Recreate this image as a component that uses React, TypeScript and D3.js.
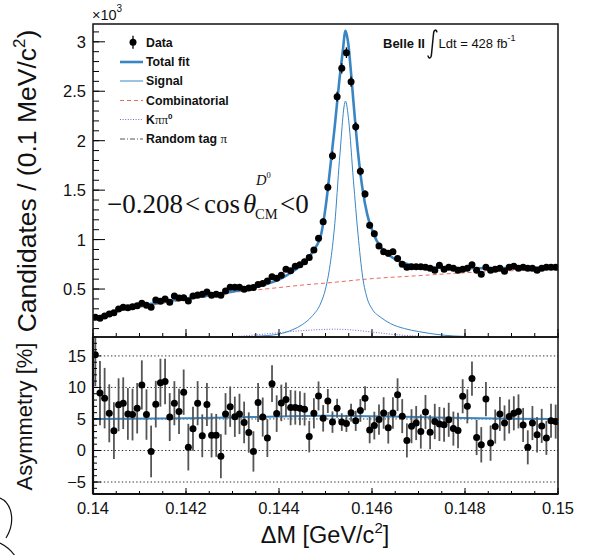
import React from "react";
import * as d3 from "d3";

// ---------------- data ----------------
const binLow = 0.14;
const binWidth = 0.0001;

// Candidates per bin (x10^3)
const candidates = [
  0.214, 0.204, 0.228, 0.248, 0.261, 0.298, 0.315, 0.312, 0.322, 0.332,
  0.356, 0.336, 0.315, 0.389, 0.376, 0.399, 0.366, 0.43, 0.41, 0.413,
  0.379, 0.43, 0.44, 0.447, 0.47, 0.437, 0.447, 0.437, 0.48, 0.517,
  0.517, 0.517, 0.497, 0.51, 0.515, 0.545, 0.555, 0.58, 0.625, 0.608,
  0.64, 0.7, 0.685, 0.73, 0.745, 0.775, 0.82, 0.895, 1.013, 1.181,
  1.529, 1.849, 2.445, 2.732, 2.89, 2.597, 2.142, 1.69, 1.461, 1.145,
  1.06, 0.935, 0.878, 0.861, 0.878, 0.81, 0.75, 0.72, 0.726, 0.726,
  0.726, 0.72, 0.71, 0.69, 0.74, 0.7, 0.72, 0.71, 0.69, 0.7,
  0.71, 0.745, 0.69, 0.65, 0.72, 0.69, 0.7, 0.71, 0.68, 0.72,
  0.73, 0.71, 0.72, 0.71, 0.71, 0.69, 0.71, 0.72, 0.72, 0.72,
];

// Asymmetry per bin [%]
const asymmetry = [
  15.2, 9.1, 8.3, 5.9, 3.15, 7.25, 7.5, 5.8, 5.7, 6.7,
  10.4, 5.7, -0.15, 7.35, 10.75, 10.95, 5.3, 7.5, 6.2, 9.25,
  0.53, 3.45, 7.5, 2.33, 7.3, 2.4, 2.4, -0.9, 5.8, 6.95,
  5.35, 5.8, 4.45, 2.85, -0.15, 7.6, 5.3, 1.97, 10.6, 5.85,
  7.55, 8.1, 6.8, 6.8, 6.7, 6.55, 2.2, 5.9, 8.65, 5.1,
  7.85, 4.5, 6.7, 4.5, 4.3, 6.0, 4.7, 6.35, 8.3, 3.25,
  3.95, 4.9, 5.95, 3.6, 5.95, 8.85, 5.45, 1.6, 3.85, 4.35,
  3.0, 6.1, 2.9, 4.6, 4.2, 4.08, 4.87, 3.47, 3.17, 8.6,
  7.0, 11.4, 2.07, 0.9, 8.15, 1.17, 3.8, 5.8, 4.35, 5.4,
  5.9, 6.2, 4.05, 0.5, 4.35, 2.5, 3.9, 2.0, 4.73, 4.58,
];

const asymmetryErr = [
  5.0, 5.1, 4.8, 4.6, 4.5, 4.2, 4.1, 4.1, 4.1, 4.0,
  3.9, 4.0, 4.1, 3.7, 3.8, 3.6, 3.8, 3.5, 3.6, 3.6,
  3.7, 3.5, 3.5, 3.4, 3.4, 3.5, 3.4, 3.5, 3.3, 3.2,
  3.2, 3.2, 3.3, 3.2, 3.2, 3.1, 3.1, 3.0, 2.9, 2.9,
  2.9, 2.7, 2.8, 2.7, 2.7, 2.6, 2.5, 2.4, 2.3, 2.1,
  1.9, 1.7, 1.5, 1.4, 1.35, 1.4, 1.6, 1.8, 1.9, 2.1,
  2.2, 2.4, 2.5, 2.5, 2.5, 2.6, 2.7, 2.7, 2.7, 2.7,
  2.7, 2.7, 2.7, 2.8, 2.7, 2.7, 2.7, 2.7, 2.8, 2.7,
  2.7, 2.7, 2.8, 2.8, 2.7, 2.8, 2.7, 2.7, 2.8, 2.7,
  2.7, 2.7, 2.7, 2.7, 2.7, 2.8, 2.7, 2.7, 2.7, 2.7,
];

// Fit components (x10^3)
const totalFitX = [0.14, 0.1403, 0.1406, 0.141, 0.1415, 0.142, 0.1425, 0.143, 0.1434, 0.1438, 0.1441, 0.1443, 0.1445, 0.1447, 0.1448, 0.1449, 0.145, 0.1451, 0.1452, 0.1453, 0.14537, 0.14543, 0.14549, 0.14555, 0.1456, 0.1457, 0.1458, 0.1459, 0.146, 0.1461, 0.1462, 0.1463, 0.1465, 0.1467, 0.147, 0.1475, 0.148, 0.149, 0.15];
const totalFitY = [0.205, 0.245, 0.29, 0.325, 0.37, 0.405, 0.435, 0.475, 0.51, 0.56, 0.62, 0.68, 0.75, 0.86, 0.93, 1.04, 1.32, 1.72, 2.15, 2.62, 2.9, 3.11, 2.98, 2.68, 2.4, 1.88, 1.5, 1.25, 1.1, 0.99, 0.92, 0.87, 0.8, 0.76, 0.73, 0.715, 0.71, 0.712, 0.72];

const signalX = [0.14, 0.142, 0.143, 0.1435, 0.144, 0.1443, 0.1445, 0.1447, 0.1449, 0.145, 0.1451, 0.1452, 0.1453, 0.14543, 0.1455, 0.1456, 0.1457, 0.1458, 0.1459, 0.146, 0.1462, 0.1464, 0.1467, 0.147, 0.1475, 0.148, 0.149, 0.15];
const signalY = [0.002, 0.006, 0.012, 0.022, 0.045, 0.09, 0.14, 0.22, 0.36, 0.5, 0.75, 1.16, 1.8, 2.4, 2.2, 1.6, 1.05, 0.62, 0.4, 0.3, 0.21, 0.15, 0.1, 0.07, 0.035, 0.02, 0.008, 0.004];

const combX = [0.14, 0.1403, 0.1406, 0.141, 0.1415, 0.142, 0.1425, 0.143, 0.1435, 0.144, 0.1445, 0.145, 0.146, 0.147, 0.148, 0.149, 0.15];
const combY = [0.2, 0.24, 0.28, 0.315, 0.355, 0.39, 0.425, 0.465, 0.49, 0.515, 0.54, 0.56, 0.605, 0.635, 0.665, 0.685, 0.7];

const kpipi0X = [0.14, 0.142, 0.143, 0.1437, 0.1442, 0.1448, 0.1452, 0.1456, 0.146, 0.1466, 0.1475, 0.1485, 0.15];
const kpipi0Y = [0.0, 0.003, 0.018, 0.045, 0.068, 0.088, 0.094, 0.085, 0.065, 0.035, 0.017, 0.008, 0.003];

const randomTagX = [0.14, 0.145, 0.15];
const randomTagY = [0.004, 0.006, 0.006];

const asymFitX = [0.14, 0.142, 0.143, 0.144, 0.145, 0.146, 0.147, 0.148, 0.149, 0.15];
const asymFitY = [5.0, 5.1, 5.25, 5.4, 5.5, 5.45, 5.3, 5.15, 5.05, 5.0];

const xTickValues = [0.14, 0.142, 0.144, 0.146, 0.148, 0.15];
const xTickLabels = ["0.14", "0.142", "0.144", "0.146", "0.148", "0.15"];
const yTopTickValues = [0.5, 1, 1.5, 2, 2.5, 3];
const yTopTickLabels = ["0.5", "1", "1.5", "2", "2.5", "3"];
const yBotTickValues = [-5, 0, 5, 10, 15];
const yBotTickLabels = ["\u22125", "0", "5", "10", "15"];

// ---------------- layout ----------------
const W = 594;
const H = 555;
const L = 93;
const R = 558;
const T = 24;
const MID = 337;
const B = 494;

const BLUE = "#3a86c4";
const RED = "#ec6a5e";
const PURPLE = "#7468d6";
const SANS = "'Liberation Sans', Arial, Helvetica, sans-serif";
const SERIF = "'Liberation Serif', 'Times New Roman', serif";

export default function App() {
  const x = d3.scaleLinear().domain([0.14, 0.15]).range([L, R]);
  const yTop = d3.scaleLinear().domain([0.015, 3.18]).range([MID, T]);
  const yBot = d3.scaleLinear().domain([-6.9, 18]).range([B, MID]);

  const topLine = d3
    .line<[number, number]>()
    .x((d) => x(d[0]))
    .y((d) => yTop(d[1]))
    .curve(d3.curveMonotoneX);
  const botLine = d3
    .line<[number, number]>()
    .x((d) => x(d[0]))
    .y((d) => yBot(d[1]))
    .curve(d3.curveMonotoneX);

  const zip = (a: number[], b: number[]) => a.map((v, i) => [v, b[i]] as [number, number]);

  const centers = candidates.map((_, i) => binLow + (i + 0.5) * binWidth);

  const xMinor = d3.range(0, 21).map((i) => 0.14 + i * 0.0005);
  const yTopMinor = d3.range(1, 32).map((i) => i * 0.1);
  const yBotMinor = d3.range(-6, 19);

  const legendRows = [42.3, 62, 81, 100.5, 119.5, 139];
  const lx0 = 120;
  const lx1 = 143;
  const ltx = 146;
  const legendFont = 12.3;
  const DOT = 3.5;

  return (
    <svg
      width={W}
      height={H}
      style={{ position: "absolute", left: 0, top: 0, background: "#fff" }}
      fontFamily={SANS}
    >
      <rect x={0} y={0} width={W} height={H} fill="#fff" />
      <defs>
        <clipPath id="clipTop">
          <rect x={L} y={T} width={R - L} height={MID - T} />
        </clipPath>
        <clipPath id="clipBot">
          <rect x={L} y={MID} width={R - L} height={B - MID} />
        </clipPath>
      </defs>

      {/* ---------- top panel ---------- */}
      <g clipPath="url(#clipTop)">
        <path d={topLine(zip(randomTagX, randomTagY)) || ""} fill="none" stroke="#555" strokeWidth={1} strokeDasharray="5,2,1,2" />
        <path d={topLine(zip(kpipi0X, kpipi0Y)) || ""} fill="none" stroke={PURPLE} strokeWidth={1} strokeDasharray="1,1.6" />
        <path d={topLine(zip(combX, combY)) || ""} fill="none" stroke={RED} strokeWidth={1} strokeDasharray="4,3" />
        <path d={topLine(zip(signalX, signalY)) || ""} fill="none" stroke={BLUE} strokeWidth={1} />
        <path d={topLine(zip(totalFitX, totalFitY)) || ""} fill="none" stroke={BLUE} strokeWidth={2.6} />
        {candidates.map((v, i) => {
          const e = Math.sqrt(v * 1000) / 1000;
          return (
            <g key={"c" + i}>
              <line x1={x(centers[i])} x2={x(centers[i])} y1={yTop(v - e)} y2={yTop(v + e)} stroke="#000" strokeWidth={1.3} />
              <circle cx={x(centers[i])} cy={yTop(v)} r={DOT} fill="#000" />
            </g>
          );
        })}
      </g>

      {/* top panel ticks */}
      {yTopMinor.map((v) => (
        <line key={"ytm" + v} x1={L} x2={L + 6} y1={yTop(v)} y2={yTop(v)} stroke="#000" strokeWidth={1} />
      ))}
      {yTopTickValues.map((v) => (
        <line key={"ytM" + v} x1={L} x2={L + 12} y1={yTop(v)} y2={yTop(v)} stroke="#000" strokeWidth={1} />
      ))}
      {xMinor.map((v, i) => (
        <line key={"xtm" + i} x1={x(v)} x2={x(v)} y1={MID} y2={MID - 4} stroke="#000" strokeWidth={1} />
      ))}
      {xTickValues.map((v) => (
        <line key={"xtM" + v} x1={x(v)} x2={x(v)} y1={MID} y2={MID - 8} stroke="#000" strokeWidth={1} />
      ))}
      <rect x={L} y={T} width={R - L} height={MID - T} fill="none" stroke="#111" strokeWidth={1.5} />

      {yTopTickValues.map((v, i) => (
        <text key={"ytl" + v} x={86} y={yTop(v) + 6} textAnchor="end" fontSize={16.5} fill="#111">
          {yTopTickLabels[i]}
        </text>
      ))}
      <text x={92} y={20} fontSize={14.5} fill="#111">
        {"\u00d710"}
        <tspan fontSize={10} dy={-8}>3</tspan>
      </text>

      <text transform="translate(36,181) rotate(-90)" textAnchor="middle" fontSize={26.5} fill="#111">
        {"Candidates / (0.1 MeV/c"}
        <tspan fontSize={17} dy={-11}>2</tspan>
        <tspan dy={11}>)</tspan>
      </text>

      {/* legend */}
      <line x1={133} x2={133} y1={legendRows[0] - 6.5} y2={legendRows[0] + 6.5} stroke="#000" strokeWidth={1.3} />
      <circle cx={133} cy={legendRows[0]} r={DOT} fill="#000" />
      <line x1={lx0} x2={lx1} y1={legendRows[1]} y2={legendRows[1]} stroke={BLUE} strokeWidth={2.6} />
      <line x1={lx0} x2={lx1} y1={legendRows[2]} y2={legendRows[2]} stroke={BLUE} strokeWidth={1} />
      <line x1={lx0} x2={lx1} y1={legendRows[3]} y2={legendRows[3]} stroke={RED} strokeWidth={1} strokeDasharray="4,3" />
      <line x1={lx0} x2={lx1} y1={legendRows[4]} y2={legendRows[4]} stroke={PURPLE} strokeWidth={1} strokeDasharray="1,1.6" />
      <line x1={lx0} x2={lx1} y1={legendRows[5]} y2={legendRows[5]} stroke="#555" strokeWidth={1} strokeDasharray="5,2,1,2" />
      <g fontSize={legendFont} fontWeight="bold" fill="#111">
        <text x={ltx} y={legendRows[0] + 4.4}>Data</text>
        <text x={ltx} y={legendRows[1] + 4.4}>Total fit</text>
        <text x={ltx} y={legendRows[2] + 4.4}>Signal</text>
        <text x={ltx} y={legendRows[3] + 4.4}>Combinatorial</text>
        <text x={ltx} y={legendRows[4] + 4.4}>
          K
          <tspan fontFamily={SERIF} fontWeight="normal" fontSize={13}>{"\u03c0\u03c0"}</tspan>
          <tspan fontSize={8} dy={-5}>0</tspan>
        </text>
        <text x={ltx} y={legendRows[5] + 4.4}>
          {"Random tag "}
          <tspan fontFamily={SERIF} fontWeight="normal" fontSize={13}>{"\u03c0"}</tspan>
        </text>
      </g>

      {/* Belle II label */}
      <text x={383} y={48} fontSize={13} fontWeight="bold" fill="#111">Belle II</text>
      <path d="M428,55.5 C428.4,58.8 431,58.8 431.4,55 L433.6,33 C434,29.3 436.6,29.3 437,32.3" fill="none" stroke="#111" strokeWidth={1.5} />
      <text x={438.5} y={48} fontSize={13} fill="#111">
        Ldt = 428 fb
        <tspan fontSize={9} dy={-7}>-1</tspan>
      </text>

      {/* cos theta label */}
      <g fontFamily={SERIF} fill="#111">
        <text x={107} y={213} fontSize={27}>{"\u22120.208"}</text>
        <text x={185} y={213} fontSize={27}>{"<"}</text>
        <text x={204} y={213} fontSize={27}>cos</text>
        <text x={243} y={213} fontSize={27} fontStyle="italic">{"\u03b8"}</text>
        <text x={256} y={185} fontSize={14.5} fontStyle="italic">D</text>
        <text x={266.5} y={178} fontSize={8.5}>0</text>
        <text x={255} y={219} fontSize={14.5}>CM</text>
        <text x={280} y={213} fontSize={27}>{"<0"}</text>
      </g>

      {/* ---------- bottom panel ---------- */}
      {yBotTickValues.map((v) => (
        <line key={"g" + v} x1={L} x2={R} y1={yBot(v)} y2={yBot(v)} stroke="#333" strokeWidth={1} strokeDasharray="1.4,2.2" />
      ))}
      <g clipPath="url(#clipBot)">
        <path d={botLine(zip(asymFitX, asymFitY)) || ""} fill="none" stroke={BLUE} strokeWidth={2} />
        {asymmetry.map((v, i) => (
          <line
            key={"ae" + i}
            x1={x(centers[i])}
            x2={x(centers[i])}
            y1={yBot(v - asymmetryErr[i])}
            y2={yBot(v + asymmetryErr[i])}
            stroke="#555"
            strokeWidth={1.8}
          />
        ))}
        {asymmetry.map((v, i) => (
          <circle key={"ap" + i} cx={x(centers[i])} cy={yBot(v)} r={DOT} fill="#000" />
        ))}
      </g>

      {yBotMinor.map((v) => (
        <line key={"ybm" + v} x1={L} x2={L + 4} y1={yBot(v)} y2={yBot(v)} stroke="#000" strokeWidth={1} />
      ))}
      {yBotTickValues.map((v) => (
        <line key={"ybM" + v} x1={L} x2={L + 8} y1={yBot(v)} y2={yBot(v)} stroke="#000" strokeWidth={1} />
      ))}
      {xMinor.map((v, i) => (
        <line key={"xbm" + i} x1={x(v)} x2={x(v)} y1={B} y2={B - 3} stroke="#000" strokeWidth={1} />
      ))}
      {xTickValues.map((v) => (
        <line key={"xbM" + v} x1={x(v)} x2={x(v)} y1={B} y2={B - 6} stroke="#000" strokeWidth={1} />
      ))}
      <rect x={L} y={MID} width={R - L} height={B - MID} fill="none" stroke="#111" strokeWidth={1.5} />
      <line x1={L} x2={L} y1={MID} y2={B} stroke="#111" strokeWidth={2.2} />
      <line x1={L} x2={R} y1={B} y2={B} stroke="#111" strokeWidth={2.2} />

      {yBotTickValues.map((v, i) => (
        <text key={"ybl" + v} x={86} y={yBot(v) + 6} textAnchor="end" fontSize={16.5} fill="#111">
          {yBotTickLabels[i]}
        </text>
      ))}
      {xTickValues.map((v, i) => (
        <text key={"xl" + v} x={x(v)} y={514} textAnchor="middle" fontSize={16.5} fill="#111">
          {xTickLabels[i]}
        </text>
      ))}

      <text transform="translate(32,416.5) rotate(-90)" textAnchor="middle" fontSize={22} fill="#111">
        Asymmetry [%]
      </text>
      <text x={325} y={543} textAnchor="middle" fontSize={23.5} fill="#111">
        {"\u0394M [GeV/c"}
        <tspan fontSize={15} dy={-10}>2</tspan>
        <tspan dy={10}>]</tspan>
      </text>

      {/* stray marks at bottom-left corner */}
      <path d="M0,498 C12,503 16,522 6,538" fill="none" stroke="#111" strokeWidth={1.2} />
      <path d="M0,543 C6,546 11,550 15,556" fill="none" stroke="#111" strokeWidth={1.2} />
    </svg>
  );
}
